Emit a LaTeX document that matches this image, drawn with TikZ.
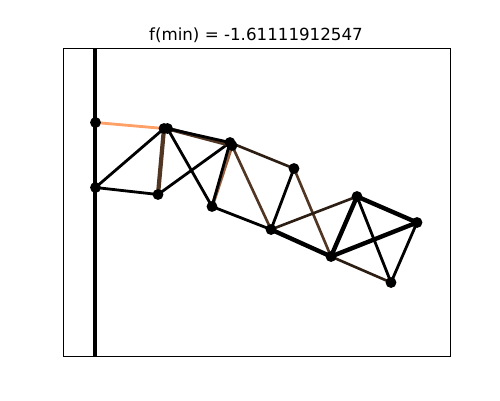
\documentclass[tikz,border=0pt]{standalone}
\usepackage{fontspec}
\setmainfont{DejaVu Sans}
\usetikzlibrary{backgrounds}
\definecolor{barorange}{RGB}{255,160,102}
\definecolor{barbrown}{RGB}{80,54,35}
\definecolor{bardark}{RGB}{45,30,20}
\tikzset{
  joint/.style={circle,fill=black,inner sep=0pt,minimum size=6.2pt},
  bar/.style={line width=1.6pt,black},
  heavybar/.style={line width=2.5pt,black},
  brownbar/.style={line width=1.5pt,barbrown},
  darkbar/.style={line width=1.5pt,bardark},
}
\begin{document}
\begin{tikzpicture}[x=0.02cm,y=-0.02cm,font=\fontsize{9.5}{11}\selectfont]
  \useasboundingbox (0,0) rectangle (500,400);
  % frame and support
  \draw[line width=0.5pt] (63.5,48) rectangle (450,356);
  \coordinate (top) at (95,48);
  \coordinate (bot) at (95,356);
  \draw[line width=2.6pt] (top) -- (bot);
  \node (title) at (256,35) {f(min) = -1.61111912547};
  % joints
  \node[joint] (a1) at (95.5,122.5) {};
  \node[joint] (a2) at (95.5,187.5) {};
  \node[joint] (b1) at (164,128.5) {};
  \node[joint] (b3) at (167.5,128.5) {};
  \node[joint] (b2) at (158,194.5) {};
  \node[joint] (c1) at (230,142.5) {};
  \node[joint] (c3) at (232,145.5) {};
  \node[joint] (c2) at (212,206.5) {};
  \node[joint] (d1) at (294,168.5) {};
  \node[joint] (d2) at (271,229.5) {};
  \node[joint] (e1) at (331,256.5) {};
  \node[joint] (e2) at (357,196.5) {};
  \node[joint] (f1) at (417,222.5) {};
  \node[joint] (f2) at (391,282.5) {};
  % bars, behind the joints
  \begin{scope}[on background layer]
  \draw[line width=1.6pt,barorange] (a1.center) -- (b1.center);
  \draw[bar] (a2.center) -- (b1.center);
  \draw[bar] (a2.center) -- (b2.center);
  \draw[line width=2.4pt,barbrown] (b1.center) -- (b2.center);
  \draw[bar] (b2.center) -- (c1.center);
  \draw[bar] (b3.center) -- (c2.center);
  \draw[line width=2.2pt,barbrown] (b3.center) -- (c3.center);
  \draw[bar] (b3.center) -- (c1.center);
  \draw[line width=2pt,barorange!40!barbrown] (c3.center) -- (c2.center);
  \draw[bar] (c1.center) -- (c2.center);
  \draw[darkbar] (c1.center) -- (d1.center);
  \draw[brownbar] (c3.center) -- (d2.center);
  \draw[bar] (c2.center) -- (d2.center);
  \draw[bar] (d1.center) -- (d2.center);
  \draw[brownbar] (d1.center) -- (e1.center);
  \draw[darkbar] (d2.center) -- (e2.center);
  % right hand part
  \draw[heavybar] (d2.center) -- (e1.center);
  \draw[heavybar] (e1.center) -- (e2.center);
  \draw[heavybar] (e1.center) -- (f1.center);
  \draw[heavybar] (e2.center) -- (f1.center);
  \draw[bar] (e2.center) -- (f2.center);
  \draw[darkbar] (e1.center) -- (f2.center);
  \draw[bar] (f1.center) -- (f2.center);
  \end{scope}
\end{tikzpicture}
\end{document}
